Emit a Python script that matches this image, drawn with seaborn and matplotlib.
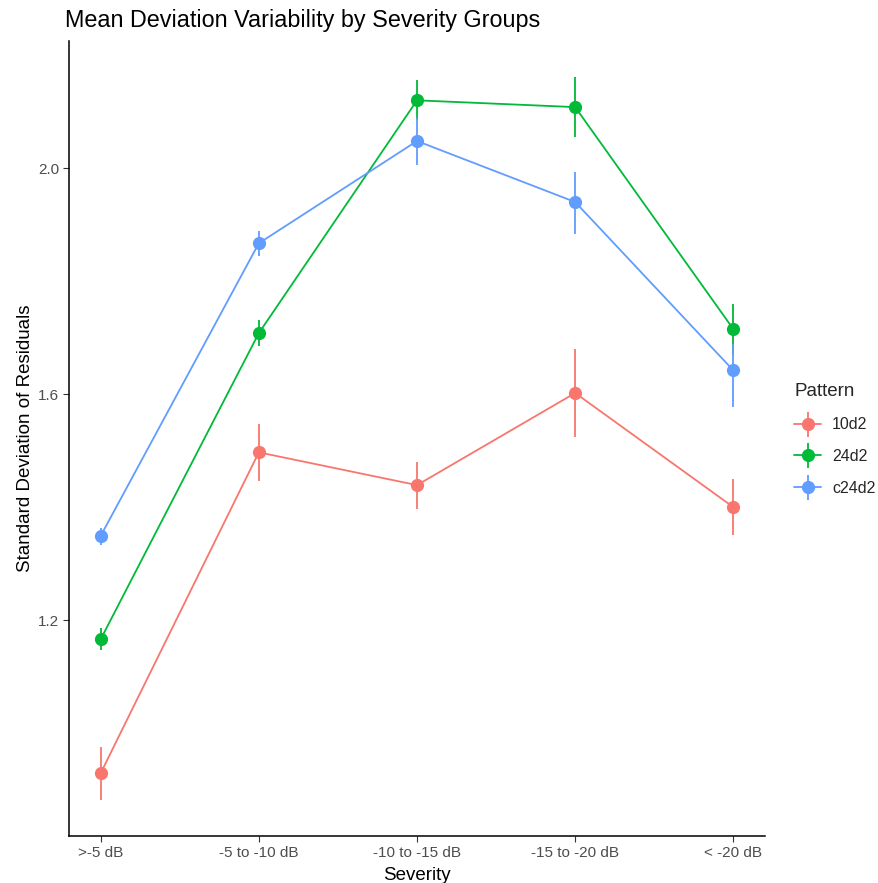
import matplotlib
matplotlib.use("Agg")
import matplotlib.pyplot as plt
import seaborn as sns
import pandas as pd
from matplotlib.lines import Line2D
from matplotlib.legend_handler import HandlerTuple

severity = [">-5 dB", "-5 to -10 dB", "-10 to -15 dB", "-15 to -20 dB", "< -20 dB"]
patterns = ["10d2", "24d2", "c24d2"]
colors = ["#F8766D", "#00BA38", "#619CFF"]

mean_10d2 = [0.929, 1.497, 1.439, 1.602, 1.400]
low_10d2 = [0.881, 1.446, 1.396, 1.524, 1.350]
high_10d2 = [0.975, 1.547, 1.480, 1.680, 1.450]

mean_24d2 = [1.166, 1.708, 2.120, 2.108, 1.715]
low_24d2 = [1.147, 1.685, 2.085, 2.055, 1.669]
high_24d2 = [1.186, 1.731, 2.156, 2.161, 1.759]

mean_c24d2 = [1.349, 1.867, 2.048, 1.940, 1.642]
low_c24d2 = [1.333, 1.844, 2.005, 1.883, 1.577]
high_c24d2 = [1.363, 1.888, 2.088, 1.993, 1.688]

means = [mean_10d2, mean_24d2, mean_c24d2]
lows = [low_10d2, low_24d2, low_c24d2]
highs = [high_10d2, high_24d2, high_c24d2]

rows = []
for p, m, lo, hi in zip(patterns, means, lows, highs):
    for s, mv, l, h in zip(severity, m, lo, hi):
        rows.append({"Severity": s, "Pattern": p, "sd": mv, "lo": l, "hi": h})
df = pd.DataFrame(rows)

sns.set_theme(style="ticks")
plt.rcParams["font.family"] = ["Liberation Sans", "DejaVu Sans"]

fig = plt.figure(figsize=(8.79, 8.83), dpi=100)
ax = fig.add_axes([69 / 879, 47 / 883, (765 - 69) / 879, (842 - 47) / 883])

pal = dict(zip(patterns, colors))
for p in patterns:
    sub = df[df["Pattern"] == p]
    ax.vlines(sub["Severity"], sub["lo"], sub["hi"], color=pal[p], lw=1.3, zorder=2)

sns.lineplot(data=df, x="Severity", y="sd", hue="Pattern", palette=pal,
             marker="o", markersize=9.5, markeredgewidth=0, lw=1.3,
             sort=False, legend=False, ax=ax, zorder=3)

ax.set_xlim(-0.2, 4.2)
ax.set_ylim(0.818, 2.225)
ax.set_yticks([1.2, 1.6, 2.0])
ax.set_yticklabels(["1.2", "1.6", "2.0"])

for s in ["top", "right"]:
    ax.spines[s].set_visible(False)
for s in ["left", "bottom"]:
    ax.spines[s].set_linewidth(1.1)
    ax.spines[s].set_color("black")
ax.tick_params(axis="both", length=4, width=0.8, color="#333333",
               labelcolor="#4D4D4D", labelsize=11, pad=3)

ax.set_xlabel("Severity", fontsize=13.5, color="black", labelpad=5)
ax.set_ylabel("Standard Deviation of Residuals", fontsize=13.5, color="black", labelpad=3)
ax.set_title("Mean Deviation Variability by Severity Groups", fontsize=16.8,
             loc="left", x=-0.006, pad=10, color="black")
ax.grid(False)

handles = []
for p in patterns:
    h1 = Line2D([], [], color=pal[p], lw=1.3, marker="o", markersize=9.5, markeredgewidth=0)
    h2 = Line2D([], [], color=pal[p], lw=0, marker="|", markersize=18, markeredgewidth=1.3)
    handles.append((h1, h2))
leg = fig.legend(handles, patterns, title="Pattern",
                 handler_map={tuple: HandlerTuple(ndivide=1)},
                 loc="upper left", bbox_to_anchor=(780 / 879, 1 - 369 / 883),
                 frameon=False, fontsize=11.5, title_fontsize=13.5,
                 handlelength=1.65, labelspacing=1.05, handletextpad=0.7)
leg._legend_box.align = "left"

fig.savefig("out.png", dpi=100)
